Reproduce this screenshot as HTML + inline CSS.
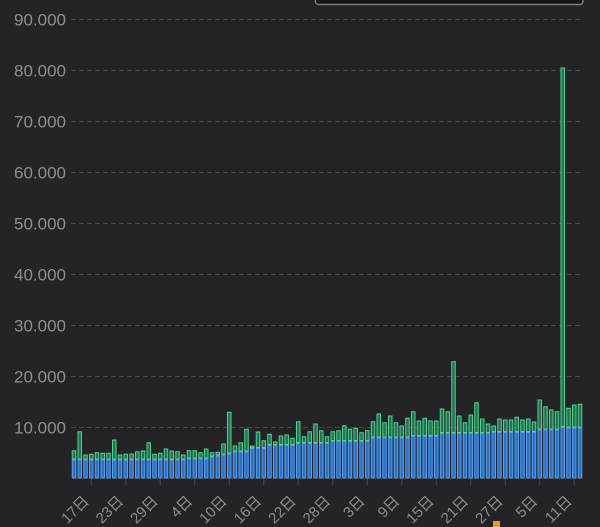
<!DOCTYPE html>
<html><head><meta charset="utf-8"><style>
html,body{margin:0;padding:0;background:#242426;width:600px;height:527px;overflow:hidden;}
svg{display:block;overflow:hidden;}
.yl{font-family:"Liberation Sans","Noto Sans CJK SC",sans-serif;font-size:17px;fill:#8e8e93;text-anchor:end}
.xl{font-family:"Liberation Sans","Noto Sans CJK SC",sans-serif;font-size:15px;fill:#8e8e93;text-anchor:end}
.gl{stroke:#4a4a4c;stroke-width:1;stroke-dasharray:5 3}
</style></head><body>
<svg width="600" height="527" viewBox="0 0 600 527" xmlns="http://www.w3.org/2000/svg">
<rect x="0" y="0" width="600" height="527" fill="#242426"/>
<rect x="315.5" y="0" width="267.5" height="4.5" fill="#141416"/>
<path d="M315.5 0V1.5a3 3 0 0 0 3 3H580a3 3 0 0 0 3-3V0" fill="none" stroke="#7a7a7a" stroke-width="1.5"/>
<path class="gl" d="M71 19.5H583M71 70.5H583M71 121.5H583M71 172.5H583M71 223.5H583M71 274.5H583M71 325.5H583M71 376.5H583M71 427.5H583"/>
<text class="yl" x="66" y="25.5">90.000</text>
<text class="yl" x="66" y="76.5">80.000</text>
<text class="yl" x="66" y="127.5">70.000</text>
<text class="yl" x="66" y="178.5">60.000</text>
<text class="yl" x="66" y="229.5">50.000</text>
<text class="yl" x="66" y="280.5">40.000</text>
<text class="yl" x="66" y="331.5">30.000</text>
<text class="yl" x="66" y="382.5">20.000</text>
<text class="yl" x="66" y="433.5">10.000</text>
<path fill="#207552" stroke="#52d196" stroke-width="1" d="M72.25 450.7h3.5v8.3h-3.5z M78 431.7h3.5v27.3h-3.5z M83.75 455h3.5v4h-3.5z M89.5 454.3h3.5v4.7h-3.5z M95.25 452.7h3.5v6.3h-3.5z M101 453.3h3.5v5.7h-3.5z M106.75 453.3h3.5v5.7h-3.5z M112.5 440h3.5v19h-3.5z M118.25 455h3.5v4h-3.5z M124 454.3h3.5v4.7h-3.5z M129.75 454h3.5v5h-3.5z M135.5 451.7h3.5v7.3h-3.5z M141.25 451h3.5v8h-3.5z M147 442.7h3.5v16.3h-3.5z M152.75 454.3h3.5v4.7h-3.5z M158.5 453.3h3.5v5.7h-3.5z M164.25 449h3.5v10h-3.5z M170 451h3.5v8h-3.5z M175.75 451.7h3.5v7.3h-3.5z M181.5 455h3.5v4h-3.5z M187.25 450.7h3.5v7.3h-3.5z M193 450.7h3.5v7.3h-3.5z M198.75 452.7h3.5v5.3h-3.5z M204.5 449h3.5v9h-3.5z M210.25 452.7h3.5v3.3h-3.5z M216 452.3h3.5v2.7h-3.5z M221.75 444h3.5v10h-3.5z M227.5 412.3h3.5v40.7h-3.5z M233.25 446h3.5v5h-3.5z M239 442.7h3.5v8.3h-3.5z M244.75 429.3h3.5v21.7h-3.5z M250.5 446h3.5v1.5h-3.5z M256.25 432h3.5v15.5h-3.5z M262 440.7h3.5v6.8h-3.5z M267.75 434.3h3.5v10.2h-3.5z M273.5 442h3.5v2.5h-3.5z M279.25 436h3.5v8.5h-3.5z M285 435h3.5v9.5h-3.5z M290.75 438.3h3.5v6.2h-3.5z M296.5 421.7h3.5v20.8h-3.5z M302.25 436.7h3.5v5.8h-3.5z M308 431.7h3.5v10.8h-3.5z M313.75 424h3.5v18.5h-3.5z M319.5 430.7h3.5v11.8h-3.5z M325.25 436.7h3.5v5.8h-3.5z M331 431.7h3.5v8.8h-3.5z M336.75 430.7h3.5v9.8h-3.5z M342.5 425.7h3.5v14.8h-3.5z M348.25 429.3h3.5v11.2h-3.5z M354 428.3h3.5v12.2h-3.5z M359.75 432.7h3.5v7.8h-3.5z M365.5 430.7h3.5v9.8h-3.5z M371.25 421.7h3.5v15.3h-3.5z M377 414h3.5v23h-3.5z M382.75 422.7h3.5v14.3h-3.5z M388.5 416h3.5v21h-3.5z M394.25 422.7h3.5v14.3h-3.5z M400 426h3.5v11h-3.5z M405.75 418.3h3.5v18.7h-3.5z M411.5 411.7h3.5v23.8h-3.5z M417.25 421h3.5v14.5h-3.5z M423 418.3h3.5v17.2h-3.5z M428.75 421h3.5v14.5h-3.5z M434.5 421h3.5v14.5h-3.5z M440.25 409h3.5v23.5h-3.5z M446 411.7h3.5v20.8h-3.5z M451.75 361.7h3.5v70.8h-3.5z M457.5 416h3.5v16.5h-3.5z M463.25 422.7h3.5v9.8h-3.5z M469 415h3.5v17.5h-3.5z M474.75 402.7h3.5v29.8h-3.5z M480.5 419h3.5v13.5h-3.5z M486.25 424h3.5v8.5h-3.5z M492 426h3.5v5.5h-3.5z M497.75 419h3.5v12.5h-3.5z M503.5 420h3.5v11.5h-3.5z M509.25 420h3.5v11.5h-3.5z M515 417.3h3.5v14.2h-3.5z M520.75 420h3.5v11.5h-3.5z M526.5 419h3.5v12.5h-3.5z M532.25 422h3.5v9.5h-3.5z M538 400h3.5v29h-3.5z M543.75 406.7h3.5v22.3h-3.5z M549.5 410h3.5v19h-3.5z M555.25 411.7h3.5v17.3h-3.5z M561 68h3.5v358.5h-3.5z M566.75 408.3h3.5v18.7h-3.5z M572.5 405h3.5v22h-3.5z M578.25 404.3h3.5v22.7h-3.5z"/>
<path fill="#2e6fc8" stroke="#55a0ea" stroke-width="1" d="M72.25 460h3.5V478h-3.5z M78 460h3.5V478h-3.5z M83.75 460h3.5V478h-3.5z M89.5 460h3.5V478h-3.5z M95.25 460h3.5V478h-3.5z M101 460h3.5V478h-3.5z M106.75 460h3.5V478h-3.5z M112.5 460h3.5V478h-3.5z M118.25 460h3.5V478h-3.5z M124 460h3.5V478h-3.5z M129.75 460h3.5V478h-3.5z M135.5 460h3.5V478h-3.5z M141.25 460h3.5V478h-3.5z M147 460h3.5V478h-3.5z M152.75 460h3.5V478h-3.5z M158.5 460h3.5V478h-3.5z M164.25 460h3.5V478h-3.5z M170 460h3.5V478h-3.5z M175.75 460h3.5V478h-3.5z M181.5 460h3.5V478h-3.5z M187.25 459h3.5V478h-3.5z M193 459h3.5V478h-3.5z M198.75 459h3.5V478h-3.5z M204.5 459h3.5V478h-3.5z M210.25 457h3.5V478h-3.5z M216 456h3.5V478h-3.5z M221.75 455h3.5V478h-3.5z M227.5 454h3.5V478h-3.5z M233.25 452h3.5V478h-3.5z M239 452h3.5V478h-3.5z M244.75 452h3.5V478h-3.5z M250.5 448.5h3.5V478h-3.5z M256.25 448.5h3.5V478h-3.5z M262 448.5h3.5V478h-3.5z M267.75 445.5h3.5V478h-3.5z M273.5 445.5h3.5V478h-3.5z M279.25 445.5h3.5V478h-3.5z M285 445.5h3.5V478h-3.5z M290.75 445.5h3.5V478h-3.5z M296.5 443.5h3.5V478h-3.5z M302.25 443.5h3.5V478h-3.5z M308 443.5h3.5V478h-3.5z M313.75 443.5h3.5V478h-3.5z M319.5 443.5h3.5V478h-3.5z M325.25 443.5h3.5V478h-3.5z M331 441.5h3.5V478h-3.5z M336.75 441.5h3.5V478h-3.5z M342.5 441.5h3.5V478h-3.5z M348.25 441.5h3.5V478h-3.5z M354 441.5h3.5V478h-3.5z M359.75 441.5h3.5V478h-3.5z M365.5 441.5h3.5V478h-3.5z M371.25 438h3.5V478h-3.5z M377 438h3.5V478h-3.5z M382.75 438h3.5V478h-3.5z M388.5 438h3.5V478h-3.5z M394.25 438h3.5V478h-3.5z M400 438h3.5V478h-3.5z M405.75 438h3.5V478h-3.5z M411.5 436.5h3.5V478h-3.5z M417.25 436.5h3.5V478h-3.5z M423 436.5h3.5V478h-3.5z M428.75 436.5h3.5V478h-3.5z M434.5 436.5h3.5V478h-3.5z M440.25 433.5h3.5V478h-3.5z M446 433.5h3.5V478h-3.5z M451.75 433.5h3.5V478h-3.5z M457.5 433.5h3.5V478h-3.5z M463.25 433.5h3.5V478h-3.5z M469 433.5h3.5V478h-3.5z M474.75 433.5h3.5V478h-3.5z M480.5 433.5h3.5V478h-3.5z M486.25 433.5h3.5V478h-3.5z M492 432.5h3.5V478h-3.5z M497.75 432.5h3.5V478h-3.5z M503.5 432.5h3.5V478h-3.5z M509.25 432.5h3.5V478h-3.5z M515 432.5h3.5V478h-3.5z M520.75 432.5h3.5V478h-3.5z M526.5 432.5h3.5V478h-3.5z M532.25 432.5h3.5V478h-3.5z M538 430h3.5V478h-3.5z M543.75 430h3.5V478h-3.5z M549.5 430h3.5V478h-3.5z M555.25 430h3.5V478h-3.5z M561 427.5h3.5V478h-3.5z M566.75 428h3.5V478h-3.5z M572.5 428h3.5V478h-3.5z M578.25 428h3.5V478h-3.5z"/>
<path stroke="#4a4a4c" stroke-width="1" d="M91.25 479v6M125.75 479v6M160.25 479v6M194.75 479v6M229.25 479v6M263.75 479v6M298.25 479v6M332.75 479v6M367.25 479v6M401.75 479v6M436.25 479v6M470.75 479v6M505.25 479v6M539.75 479v6M574.25 479v6"/>
<text class="xl" transform="translate(89.75,502) rotate(-45)">17日</text>
<text class="xl" transform="translate(124.25,502) rotate(-45)">23日</text>
<text class="xl" transform="translate(158.75,502) rotate(-45)">29日</text>
<text class="xl" transform="translate(193.25,502) rotate(-45)">4日</text>
<text class="xl" transform="translate(227.75,502) rotate(-45)">10日</text>
<text class="xl" transform="translate(262.25,502) rotate(-45)">16日</text>
<text class="xl" transform="translate(296.75,502) rotate(-45)">22日</text>
<text class="xl" transform="translate(331.25,502) rotate(-45)">28日</text>
<text class="xl" transform="translate(365.75,502) rotate(-45)">3日</text>
<text class="xl" transform="translate(400.25,502) rotate(-45)">9日</text>
<text class="xl" transform="translate(434.75,502) rotate(-45)">15日</text>
<text class="xl" transform="translate(469.25,502) rotate(-45)">21日</text>
<text class="xl" transform="translate(503.75,502) rotate(-45)">27日</text>
<text class="xl" transform="translate(538.25,502) rotate(-45)">5日</text>
<text class="xl" transform="translate(572.75,502) rotate(-45)">11日</text>
<rect x="493" y="521" width="7" height="6" fill="#d9a520"/>
</svg>
</body></html>
